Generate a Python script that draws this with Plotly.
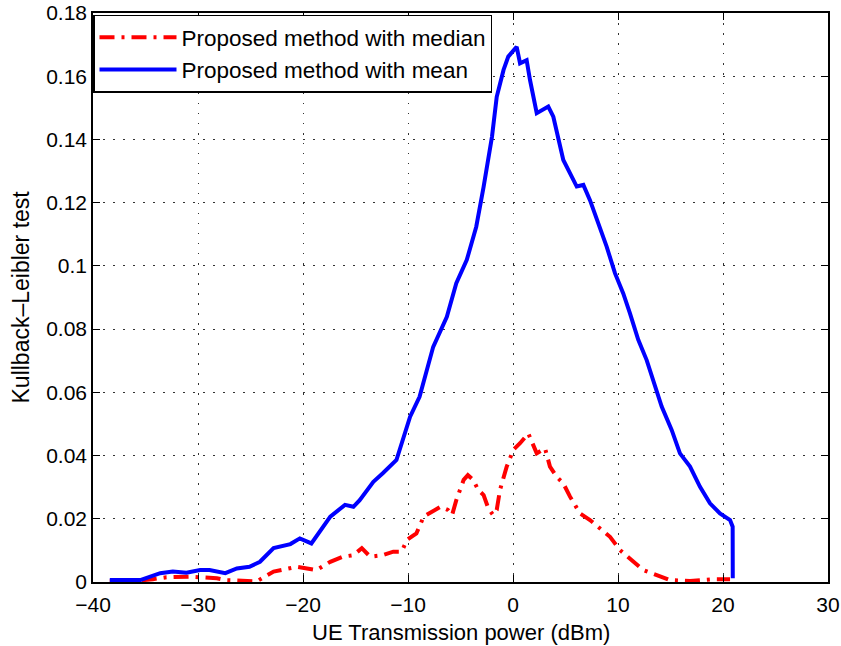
import plotly.graph_objects as go

# KL divergence vs UE transmission power (dBm)
mean_x = [-38.4, -35.5, -33.6, -32.4, -31.1, -29.8, -28.9, -28.2, -27.4, -26.3,
          -25.1, -24.1, -22.8, -21.2, -20.3, -19.2, -17.4, -16.0, -15.2, -14.6,
          -13.3, -12.4, -11.1, -9.8, -8.9, -7.6, -6.3, -5.4, -4.4, -3.5,
          -3.0, -2.8, -2.0, -1.55, -0.9, -0.45, 0.35, 0.67, 1.3, 1.62,
          2.26, 3.36, 3.84, 4.79, 6.07, 6.7, 7.33, 8.12, 8.92, 9.71,
          10.5, 11.14, 11.93, 12.73, 13.36, 14.16, 15.11, 15.9, 16.86, 17.81,
          18.76, 19.71, 20.67, 20.92, 20.93]
mean_y = [0.0006, 0.0006, 0.0028, 0.0033, 0.0029, 0.0038, 0.0038, 0.0033, 0.0028, 0.0043,
          0.0048, 0.0064, 0.0107, 0.0120, 0.0138, 0.0122, 0.0207, 0.0244, 0.0238, 0.0259,
          0.0317, 0.0344, 0.0386, 0.0523, 0.0586, 0.0744, 0.0839, 0.0945, 0.1019, 0.1124,
          0.1208, 0.1250, 0.1409, 0.1535, 0.1620, 0.1662, 0.1693, 0.1641, 0.1651, 0.1588,
          0.1483, 0.1504, 0.1472, 0.1335, 0.1251, 0.1256, 0.1208, 0.1135, 0.1061, 0.0977,
          0.0913, 0.0850, 0.0766, 0.0702, 0.0639, 0.0555, 0.0481, 0.0407, 0.0365, 0.0301,
          0.0249, 0.0217, 0.0196, 0.0175, 0.0012]

median_x = [-38.4, -36.0, -34.3, -33.0, -30.8, -28.2, -27.3, -25.1, -24.4, -22.8,
            -20.6, -18.7, -17.4, -16.2, -15.2, -14.4, -13.6, -12.4, -11.4, -10.6,
            -10.1, -9.2, -8.5, -6.9, -6.2, -5.8, -5.4, -4.7, -4.3, -3.8,
            -3.3, -2.8, -2.35, -1.9, -1.55, -1.24, -0.6, 0.03, 0.67, 1.46,
            1.78, 2.26, 3.05, 3.52, 4.16, 4.79, 5.43, 6.38, 7.33, 8.29,
            9.24, 10.19, 11.14, 12.41, 13.69, 14.95, 16.86, 19.08, 20.67]
median_y = [0.0003, 0.0003, 0.0009, 0.0015, 0.0017, 0.0012, 0.0006, 0.0002, 0.0002, 0.0033,
            0.0048, 0.0038, 0.0064, 0.0080, 0.0085, 0.0107, 0.0080, 0.0085, 0.0096, 0.0096,
            0.0133, 0.0154, 0.0207, 0.0238, 0.0228, 0.0212, 0.0259, 0.0323, 0.0338, 0.0323,
            0.0291, 0.0275, 0.0233, 0.0212, 0.0228, 0.0291, 0.0365, 0.0418, 0.0439, 0.0470,
            0.0444, 0.0407, 0.0423, 0.0365, 0.0333, 0.0312, 0.0270, 0.0217, 0.0196, 0.0170,
            0.0143, 0.0101, 0.0075, 0.0038, 0.0022, 0.0006, 0.0003, 0.0009, 0.0009]

x_ticks = [-40, -30, -20, -10, 0, 10, 20, 30]
y_ticks = [0, 0.02, 0.04, 0.06, 0.08, 0.1, 0.12, 0.14, 0.16, 0.18]
y_tick_text = ["0", "0.02", "0.04", "0.06", "0.08", "0.1", "0.12", "0.14", "0.16", "0.18"]

x_title = "UE Transmission power (dBm)"
y_title = "Kullback\u2013Leibler test"

FONT = "Liberation Sans, Arial, Helvetica, sans-serif"

fig = go.Figure()
fig.add_trace(go.Scatter(
    x=median_x, y=median_y, mode="lines", name="Proposed method with median",
    line=dict(color="#ff0000", width=4, dash="15px,7px,3px,7px"),
))
fig.add_trace(go.Scatter(
    x=mean_x, y=mean_y, mode="lines", name="Proposed method with mean",
    line=dict(color="#0000ff", width=4),
))

axis_common = dict(
    showline=True, linecolor="black", linewidth=1.5, mirror="ticks",
    ticks="inside", ticklen=7, tickwidth=1, tickcolor="black",
    showgrid=True, gridcolor="#333333", gridwidth=1, griddash="1.5px,8.5px",
    zeroline=False, automargin=False,
    tickfont=dict(family=FONT, size=21, color="black"),
)

fig.update_xaxes(range=[-40, 30], tickvals=x_ticks, ticklabelstandoff=3, **axis_common)
fig.update_yaxes(range=[0, 0.18], tickvals=y_ticks, ticktext=y_tick_text, **axis_common)

# axis titles placed relative to the plot area
fig.add_annotation(
    text=x_title, xref="paper", yref="paper", x=0.5, y=0,
    xanchor="center", yanchor="middle", yshift=-50, showarrow=False,
    font=dict(family=FONT, size=22, color="black"),
)
fig.add_annotation(
    text=y_title, xref="paper", yref="paper", x=0, y=0.5,
    xanchor="center", yanchor="middle", xshift=-73, textangle=-90, showarrow=False,
    font=dict(family=FONT, size=23, color="black"),
)

fig.update_layout(
    width=841, height=646,
    margin=dict(l=93, r=13, t=13, b=64, autoexpand=False),
    paper_bgcolor="white", plot_bgcolor="white",
    font=dict(family=FONT, color="black"),
    showlegend=True,
    legend=dict(
        x=0, y=0.997, xanchor="left", yanchor="top",
        bgcolor="white", bordercolor="black", borderwidth=1.5,
        font=dict(family=FONT, size=22.5, color="black"),
        itemwidth=77,
    ),
)

fig.write_html("out.html")
